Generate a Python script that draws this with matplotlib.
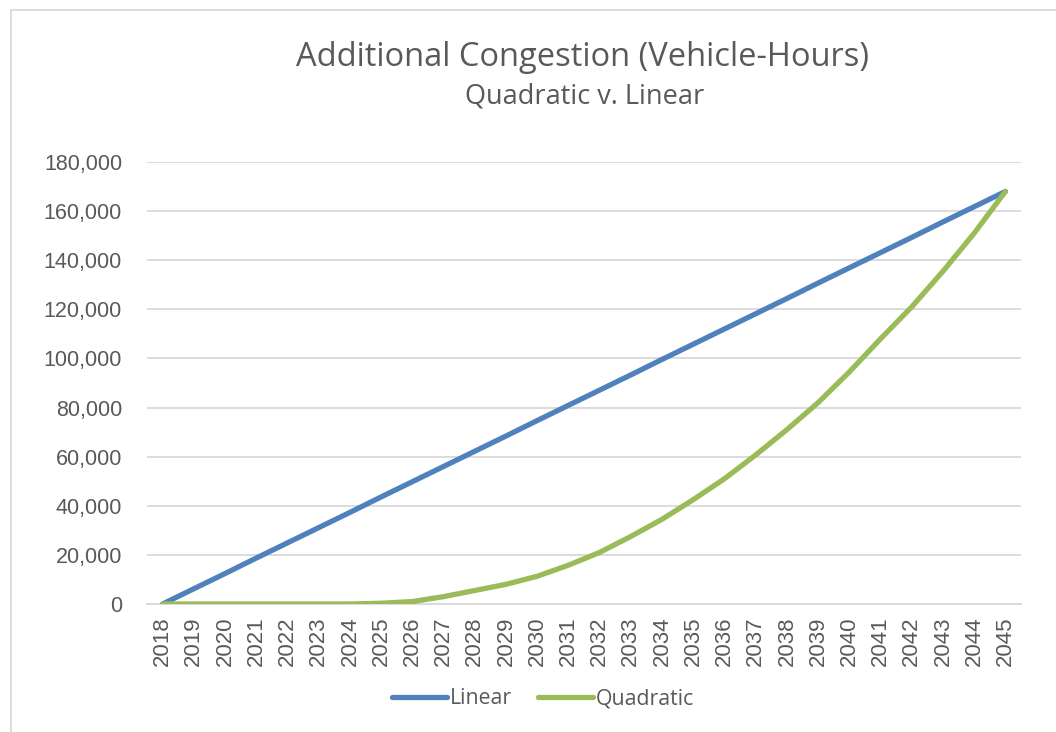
import matplotlib.pyplot as plt
from matplotlib.ticker import FuncFormatter

years = list(range(2018, 2046))
linear = [0, 6200, 12400, 18700, 24900, 31100, 37300, 43600, 49800, 56000,
          62200, 68400, 74700, 80900, 87100, 93300, 99600, 105800, 112000,
          118200, 124400, 130700, 136900, 143100, 149300, 155600, 161800, 168000]
quadratic = [0, 0, 0, 0, 0, 0, 0, 300, 1000, 3000, 5500, 8000, 11300, 15800,
             21000, 27500, 34500, 42500, 51000, 60700, 71000, 82000, 94500,
             108000, 121000, 135500, 151000, 168000]

text_col = "#595959"
grid_col = "#d9d9d9"

fig = plt.figure(figsize=(10.56, 7.32), dpi=100)
ax = fig.add_axes([147 / 1056, 1 - 604 / 732, 874 / 1056, 442 / 732])

ax.plot(years, linear, color="#4f81bd", lw=3.8, solid_capstyle="round",
        solid_joinstyle="round", label="Linear", zorder=3)
ax.plot(years, quadratic, color="#9bbb59", lw=3.8, solid_capstyle="round",
        solid_joinstyle="round", label="Quadratic", zorder=4)

ax.set_xlim(2017.5, 2045.5)
ax.set_ylim(0, 180000)
ax.set_yticks(range(0, 180001, 20000))
ax.yaxis.set_major_formatter(FuncFormatter(lambda v, p: f"{int(v):,}"))
ax.set_xticks(years)
ax.set_xticklabels([str(y) for y in years], rotation=90)
ax.grid(axis="y", color=grid_col, lw=1.3)
ax.set_axisbelow(True)
for s in ["top", "right", "left"]:
    ax.spines[s].set_visible(False)
ax.spines["bottom"].set_color(grid_col)
ax.spines["bottom"].set_linewidth(1.3)
ax.tick_params(axis="both", length=0, colors=text_col)
ax.tick_params(axis="y", pad=18, labelsize=15.5)
ax.tick_params(axis="x", pad=9, labelsize=16)
for lbl in ax.get_xticklabels() + ax.get_yticklabels():
    lbl.set_family("Liberation Sans")

fig.text(583 / 1056, 1 - 57 / 732, "Additional Congestion (Vehicle-Hours)",
         ha="center", va="center", fontsize=23.5, color=text_col, family="Open Sans")
fig.text(585 / 1056, 1 - 97 / 732, "Quadratic v. Linear",
         ha="center", va="center", fontsize=19.5, color=text_col, family="Open Sans")

leg = fig.legend(loc="center", bbox_to_anchor=(543 / 1056, 1 - 699 / 732),
                 ncol=2, frameon=False, handlelength=2.6,
                 handletextpad=0.15, columnspacing=1.2,
                 prop={"family": "Open Sans", "size": 15.3})
for t in leg.get_texts():
    t.set_color(text_col)

# chart area frame (left and top edges visible)
fig.add_artist(plt.Line2D([11 / 1056, 11 / 1056], [0, 1 - 10 / 732],
                          color=grid_col, lw=1.3, transform=fig.transFigure))
fig.add_artist(plt.Line2D([11 / 1056, 1], [1 - 10 / 732, 1 - 10 / 732],
                          color=grid_col, lw=1.3, transform=fig.transFigure))

fig.savefig("out.png", dpi=100)
